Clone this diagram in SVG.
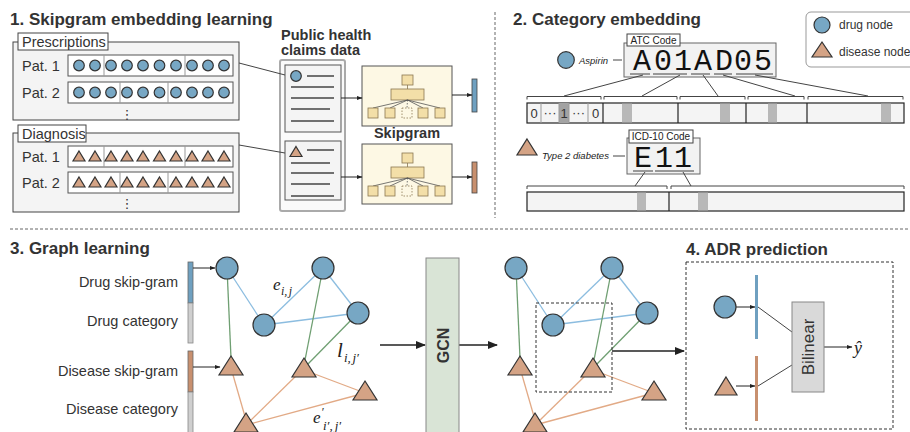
<svg xmlns="http://www.w3.org/2000/svg" xmlns:xlink="http://www.w3.org/1999/xlink" width="910" height="432" viewBox="0 0 910 432">
<defs>
<style>
.t{font-family:"Liberation Sans",Arial,sans-serif;fill:#333}
.h{font-family:"Liberation Sans",Arial,sans-serif;font-weight:bold;fill:#333;font-size:17px}
.hb{font-family:"Liberation Sans",Arial,sans-serif;font-weight:bold;fill:#333;font-size:14.5px}
.lbl{font-size:14.5px}
.sm{font-size:10px;fill:#222}
.it{font-family:"Liberation Sans",Arial,sans-serif;font-style:italic;font-size:9.5px;fill:#222}
.drug{fill:#77a7c4;stroke:#333;stroke-width:1.2}
.dis{fill:#d4a385;stroke:#333;stroke-width:1.2}
.ln{stroke:#444;stroke-width:1;fill:none}
.box{fill:#f4f4f4;stroke:#444;stroke-width:1}
.tag{fill:#fff;stroke:#444;stroke-width:1}
.row{fill:#fff;stroke:#555;stroke-width:1}
.dv{stroke:#999;stroke-width:1}
.card{fill:#f4f4f4;stroke:#555;stroke-width:1}
.cl{stroke:#444;stroke-width:1.5}
.sg{fill:#fdf8e4;stroke:#555;stroke-width:1}
.sq{fill:#f3dfa8;stroke:#8a7750;stroke-width:0.8}
.be{stroke:#8cbde0;stroke-width:1.3}
.ge{stroke:#6f9f72;stroke-width:1.3}
.oe{stroke:#e2aa86;stroke-width:1.3}
.sep{stroke:#666;stroke-width:1;stroke-dasharray:3 2}
.mono{font-family:"Liberation Mono","Courier New",monospace;font-size:30px;fill:#111}
.ul{stroke:#999;stroke-width:2}
.bar{fill:#f4f4f4;stroke:#222;stroke-width:1.2}
.mk{fill:#b8b8b8}
.bk{fill:none;stroke:#444;stroke-width:1}
.math{font-family:"Liberation Serif","Times New Roman",serif;font-style:italic;fill:#222}
.ar{stroke:#222;stroke-width:1;marker-end:url(#a1)}
.ar2{stroke:#222;stroke-width:1.6;marker-end:url(#a2)}
</style>
<marker id="a1" markerWidth="6" markerHeight="6" refX="5.5" refY="3" orient="auto" markerUnits="userSpaceOnUse"><path d="M0,0.8 L6,3 L0,5.2 Z" fill="#222"/></marker>
<marker id="a2" markerWidth="10" markerHeight="10" refX="9" refY="5" orient="auto" markerUnits="userSpaceOnUse"><path d="M0,1 L10,5 L0,9 Z" fill="#222"/></marker>
<path id="st" d="M0,-5.5 L6,4.5 L-6,4.5 Z"/>
<path id="T" d="M0,0 L12,19 L-12,19 Z"/>
<g id="tree">
<rect class="sq" x="40" y="9" width="11" height="10"/>
<line x1="45.5" y1="19" x2="45.5" y2="23" stroke="#8a7750" stroke-width="0.8"/>
<rect class="sq" x="29" y="23" width="33" height="11"/>
<g stroke="#555" stroke-width="0.8">
<line x1="45.5" y1="34" x2="11" y2="42"/><line x1="45.5" y1="34" x2="28" y2="42"/><line x1="45.5" y1="34" x2="45" y2="42" stroke-dasharray="1.5 1.5"/><line x1="45.5" y1="34" x2="61" y2="42"/><line x1="45.5" y1="34" x2="78" y2="42"/>
</g>
<rect class="sq" x="6" y="42" width="10" height="10"/>
<rect class="sq" x="23" y="42" width="10" height="10"/>
<rect x="40" y="42" width="10" height="10" fill="#fdf8e4" stroke="#8a7750" stroke-width="0.8" stroke-dasharray="1.5 1.5"/>
<rect class="sq" x="56" y="42" width="10" height="10"/>
<rect class="sq" x="73" y="42" width="10" height="10"/>
</g>
</defs>
<rect width="910" height="432" fill="#fff"/>

<!-- titles -->
<text class="h" x="10" y="25">1. Skipgram embedding learning</text>
<text class="h" x="513" y="25">2. Category embedding</text>
<text class="h" x="10" y="254">3. Graph learning</text>
<text class="h" x="686" y="255">4. ADR prediction</text>

<!-- separators -->
<line class="sep" x1="495" y1="12" x2="495" y2="218"/>
<line class="sep" x1="10" y1="229" x2="910" y2="229"/>

<!-- Section 1 -->
<g id="prescriptions">
<rect class="box" x="13" y="42" width="226" height="78"/>
<rect class="tag" x="18" y="33" width="90" height="17"/>
<text class="t lbl" x="22" y="46.5">Prescriptions</text>
<text class="t lbl" x="22" y="71">Pat. 1</text>
<text class="t lbl" x="22" y="98">Pat. 2</text>
<rect class="row" x="68" y="55" width="165" height="21"/>
<rect class="row" x="68" y="82" width="165" height="21"/>
<line class="dv" x1="104" y1="55" x2="104" y2="76"/><line class="dv" x1="185" y1="55" x2="185" y2="76"/>
<line class="dv" x1="120" y1="82" x2="120" y2="103"/><line class="dv" x1="168" y1="82" x2="168" y2="103"/>
<g class="drug">
<circle cx="79" cy="65.5" r="5.3"/><circle cx="95" cy="65.5" r="5.3"/><circle cx="111" cy="65.5" r="5.3"/><circle cx="127" cy="65.5" r="5.3"/><circle cx="143" cy="65.5" r="5.3"/><circle cx="159.5" cy="65.5" r="5.3"/><circle cx="176" cy="65.5" r="5.3"/><circle cx="192" cy="65.5" r="5.3"/><circle cx="208" cy="65.5" r="5.3"/><circle cx="224" cy="65.5" r="5.3"/>
<circle cx="79" cy="92.5" r="5.3"/><circle cx="95" cy="92.5" r="5.3"/><circle cx="111" cy="92.5" r="5.3"/><circle cx="127" cy="92.5" r="5.3"/><circle cx="143" cy="92.5" r="5.3"/><circle cx="159.5" cy="92.5" r="5.3"/><circle cx="176" cy="92.5" r="5.3"/><circle cx="192" cy="92.5" r="5.3"/><circle cx="208" cy="92.5" r="5.3"/><circle cx="224" cy="92.5" r="5.3"/>
</g>
<text x="127" y="118.5" text-anchor="middle" font-family="DejaVu Sans,sans-serif" font-size="13" fill="#333">⋮</text>
</g>

<g id="diagnosis">
<rect class="box" x="13" y="133" width="226" height="79"/>
<rect class="tag" x="18" y="125" width="68" height="17"/>
<text class="t lbl" x="22" y="138.5">Diagnosis</text>
<text class="t lbl" x="22" y="162">Pat. 1</text>
<text class="t lbl" x="22" y="188">Pat. 2</text>
<rect class="row" x="68" y="146" width="165" height="21"/>
<rect class="row" x="68" y="172" width="165" height="21"/>
<line class="dv" x1="104" y1="146" x2="104" y2="167"/><line class="dv" x1="185" y1="146" x2="185" y2="167"/>
<line class="dv" x1="120" y1="172" x2="120" y2="193"/><line class="dv" x1="168" y1="172" x2="168" y2="193"/>
<g class="dis">
<use xlink:href="#st" x="79" y="156.5"/><use xlink:href="#st" x="95" y="156.5"/><use xlink:href="#st" x="111" y="156.5"/><use xlink:href="#st" x="127" y="156.5"/><use xlink:href="#st" x="143" y="156.5"/><use xlink:href="#st" x="159.5" y="156.5"/><use xlink:href="#st" x="176" y="156.5"/><use xlink:href="#st" x="192" y="156.5"/><use xlink:href="#st" x="208" y="156.5"/><use xlink:href="#st" x="224" y="156.5"/>
<use xlink:href="#st" x="79" y="182.5"/><use xlink:href="#st" x="95" y="182.5"/><use xlink:href="#st" x="111" y="182.5"/><use xlink:href="#st" x="127" y="182.5"/><use xlink:href="#st" x="143" y="182.5"/><use xlink:href="#st" x="159.5" y="182.5"/><use xlink:href="#st" x="176" y="182.5"/><use xlink:href="#st" x="192" y="182.5"/><use xlink:href="#st" x="208" y="182.5"/><use xlink:href="#st" x="224" y="182.5"/>
</g>
<text x="127" y="207.5" text-anchor="middle" font-family="DejaVu Sans,sans-serif" font-size="13" fill="#333">⋮</text>
</g>

<g id="claims">
<text class="hb" x="281" y="40">Public health</text>
<text class="hb" x="281" y="55">claims data</text>
<rect x="280" y="60" width="65" height="151" rx="2" fill="#fafafa" stroke="#aaa" stroke-width="2"/>
<g id="card-drug">
<rect class="card" x="285" y="65" width="56" height="67"/>
<circle class="drug" cx="296" cy="76" r="5.3"/>
<line class="cl" x1="307" y1="76" x2="334" y2="76"/>
<line class="cl" x1="291" y1="87" x2="334" y2="87"/>
<line class="cl" x1="291" y1="98" x2="334" y2="98"/>
<line class="cl" x1="291" y1="109" x2="330" y2="109"/>
<line class="cl" x1="291" y1="121" x2="334" y2="121"/>
</g>
<g id="card-disease">
<rect class="card" x="285" y="141" width="56" height="59"/>
<use xlink:href="#st" class="dis" x="296" y="152"/>
<line class="cl" x1="307" y1="150" x2="334" y2="150"/>
<line class="cl" x1="291" y1="163" x2="330" y2="163"/>
<line class="cl" x1="291" y1="173" x2="334" y2="173"/>
<line class="cl" x1="291" y1="184" x2="330" y2="184"/>
<line class="cl" x1="291" y1="196" x2="334" y2="196"/>
</g>
</g>

<g id="skipgram1">
<rect class="sg" x="362" y="66" width="90" height="60"/>
<use xlink:href="#tree" x="362" y="66"/>
</g>
<text class="hb" x="407" y="138" text-anchor="middle">Skipgram</text>
<g id="skipgram2">
<rect class="sg" x="362" y="144" width="90" height="60"/>
<use xlink:href="#tree" x="362" y="144"/>
</g>
<g id="emb-drug"><rect x="472" y="79" width="5" height="33" fill="#6fa0c0" stroke="#444" stroke-width="0.8"/></g>
<g id="emb-disease"><rect x="472" y="162" width="5" height="31" fill="#c8906f" stroke="#444" stroke-width="0.8"/></g>

<!-- Section 2 -->
<g id="legend">
<rect x="806" y="12" width="112" height="55" rx="5" fill="#fff" stroke="#999" stroke-width="1"/>
<circle class="drug" cx="822" cy="25" r="8"/>
<text class="t" x="839" y="29" font-size="12">drug node</text>
<path class="dis" d="M822,42 L832,57 L812,57 Z"/>
<text class="t" x="839" y="56" font-size="12">disease node</text>
</g>

<g id="aspirin">
<circle class="drug" cx="566" cy="60" r="8.3"/>
<text class="it" x="579" y="63.5">Aspirin</text>
</g>
<g id="atc">
<rect x="624" y="43" width="152" height="34" fill="#f2f2f2" stroke="#666" stroke-width="1"/>
<rect class="tag" x="627" y="34" width="53" height="12"/>
<text class="t sm" x="653.5" y="43.8" text-anchor="middle">ATC Code</text>
<text class="mono" x="642 663 683 703 724 743 763" y="70" text-anchor="middle">A01AD05</text>
<line class="ul" x1="630" y1="74" x2="650" y2="74"/>
<line class="ul" x1="653" y1="74" x2="687" y2="74"/>
<line class="ul" x1="691" y1="74" x2="710" y2="74"/>
<line class="ul" x1="714" y1="74" x2="732" y2="74"/>
<line class="ul" x1="736" y1="74" x2="773" y2="74"/>
</g>
<g id="atc-vector">
<rect class="bar" x="527" y="103" width="377" height="20"/>
<rect x="559" y="103" width="10" height="20" fill="#a3a3a3"/>
<line class="dv" x1="541" y1="103" x2="541" y2="123"/><line class="dv" x1="559" y1="103" x2="559" y2="123"/><line class="dv" x1="569" y1="103" x2="569" y2="123"/><line class="dv" x1="588" y1="103" x2="588" y2="123"/>
<text class="t" font-size="13" x="534" y="118" text-anchor="middle" fill="#222">0</text>
<text class="t" font-size="13" x="550" y="117" text-anchor="middle" fill="#222">···</text>
<text class="t" font-size="13" x="564" y="118" text-anchor="middle" fill="#222">1</text>
<text class="t" font-size="13" x="578.5" y="117" text-anchor="middle" fill="#222">···</text>
<text class="t" font-size="13" x="595.5" y="118" text-anchor="middle" fill="#222">0</text>
<rect class="mk" x="622" y="103.6" width="10" height="18.8"/>
<rect class="mk" x="720" y="103.6" width="10" height="18.8"/>
<rect class="mk" x="768" y="103.6" width="9" height="18.8"/>
<rect class="mk" x="881" y="103.6" width="10" height="18.8"/>
<g stroke="#222" stroke-width="1.2"><line x1="603" y1="103" x2="603" y2="123"/><line x1="678" y1="103" x2="678" y2="123"/><line x1="746" y1="103" x2="746" y2="123"/><line x1="807" y1="103" x2="807" y2="123"/></g>
<path class="bk" d="M527,99.5V96.5H601V99.5M604,99.5V96.5H677V99.5M680,99.5V96.5H745V99.5M748,99.5V96.5H804V99.5M808,99.5V96.5H903V99.5"/>
</g>

<g id="t2d">
<path class="dis" d="M527,139 L537,155 L517,155 Z"/>
<text class="it" x="542" y="159">Type 2 diabetes</text>
</g>
<g id="icd">
<rect x="627" y="138" width="73" height="36" fill="#f2f2f2" stroke="#666" stroke-width="1"/>
<rect class="tag" x="629" y="130" width="64" height="13"/>
<text class="t sm" x="661" y="140.3" text-anchor="middle">ICD-10 Code</text>
<text class="mono" x="643 664 683" y="167" text-anchor="middle">E11</text>
<line class="ul" x1="633" y1="171" x2="653" y2="171"/>
<line class="ul" x1="655" y1="171" x2="694" y2="171"/>
</g>
<g id="icd-vector">
<rect class="bar" x="527" y="192" width="377" height="19"/>
<rect class="mk" x="637" y="192.6" width="9" height="17.8"/>
<rect class="mk" x="698" y="192.6" width="10" height="17.8"/>
<line x1="669" y1="192" x2="669" y2="211" stroke="#222" stroke-width="1.2"/>
<path class="bk" d="M527,189V186H667V189M671,189V186H904V189"/>
</g>

<!-- Section 3 -->
<text class="t lbl" x="178" y="287" text-anchor="end">Drug skip-gram</text>
<text class="t lbl" x="178" y="326" text-anchor="end">Drug category</text>
<text class="t lbl" x="178" y="376" text-anchor="end">Disease skip-gram</text>
<text class="t lbl" x="178" y="414" text-anchor="end">Disease category</text>
<g id="feat-drug">
<rect x="188" y="262" width="5" height="41" fill="#6fa0c0" stroke="#666" stroke-width="0.8"/>
<rect x="188" y="303" width="5" height="40" fill="#cfcfcf" stroke="#888" stroke-width="0.8"/>
</g>
<g id="feat-disease">
<rect x="188" y="351" width="5" height="41" fill="#c8906f" stroke="#666" stroke-width="0.8"/>
<rect x="188" y="392" width="5" height="48" fill="#cfcfcf" stroke="#888" stroke-width="0.8"/>
</g>

<g id="connectors">
<!-- section 1 -->
<line class="ln" x1="239" y1="63" x2="285" y2="75"/>
<line class="ln" x1="239" y1="145" x2="285" y2="153"/>
<line class="ar" x1="341" y1="98" x2="362" y2="98"/>
<line class="ar" x1="341" y1="177" x2="362" y2="177"/>
<line class="ar" x1="452" y1="95" x2="472" y2="95"/>
<line class="ar" x1="452" y1="177" x2="472" y2="177"/>
<!-- section 2 -->
<line class="ln" x1="613" y1="60" x2="622" y2="60" stroke-width="1.2"/>
<line class="ln" x1="613" y1="156" x2="625" y2="156" stroke-width="1.2"/>
<g class="ln">
<line x1="643" y1="75" x2="564" y2="96"/>
<line x1="680" y1="75" x2="642" y2="96"/>
<line x1="703" y1="75" x2="718" y2="96"/>
<line x1="723" y1="75" x2="795" y2="96"/>
<line x1="755" y1="75" x2="868" y2="96"/>
<line x1="645" y1="172" x2="635" y2="186"/>
<line x1="683" y1="172" x2="691" y2="186"/>
</g>
<!-- section 3 left graph -->
<line class="ar" x1="193" y1="268" x2="215" y2="268"/>
<line class="ar" x1="193" y1="367" x2="220" y2="367"/>
<line class="be" x1="227" y1="268" x2="264" y2="325"/>
<line class="be" x1="264" y1="325" x2="323" y2="268"/>
<line class="be" x1="264" y1="325" x2="358" y2="313"/>
<line class="be" x1="323" y1="268" x2="358" y2="313"/>
<line class="ge" x1="227" y1="268" x2="231" y2="358"/>
<line class="ge" x1="323" y1="268" x2="305" y2="360"/>
<line class="ge" x1="358" y1="313" x2="307" y2="365"/>
<line class="oe" x1="231" y1="368" x2="246" y2="420"/>
<line class="oe" x1="300" y1="372" x2="247" y2="424"/>
<line class="oe" x1="304" y1="370" x2="365" y2="393"/>
<line class="oe" x1="246" y1="425" x2="365" y2="393"/>
<line class="ar2" x1="380" y1="345" x2="425" y2="345"/>
<line class="ar2" x1="459" y1="345" x2="497" y2="345"/>
<!-- right graph -->
<line class="be" x1="516" y1="268" x2="553" y2="325"/>
<line class="be" x1="553" y1="325" x2="612" y2="268"/>
<line class="be" x1="553" y1="325" x2="647" y2="313"/>
<line class="be" x1="612" y1="268" x2="647" y2="313"/>
<line class="ge" x1="516" y1="268" x2="520" y2="358"/>
<line class="ge" x1="612" y1="268" x2="594" y2="360"/>
<line class="ge" x1="647" y1="313" x2="596" y2="365"/>
<line class="oe" x1="520" y1="368" x2="535" y2="420"/>
<line class="oe" x1="589" y1="372" x2="536" y2="424"/>
<line class="oe" x1="593" y1="370" x2="654" y2="393"/>
<line class="oe" x1="535" y1="425" x2="654" y2="393"/>
<line class="ar2" x1="612" y1="351" x2="684" y2="351"/>
<!-- section 4 -->
<line class="ar" x1="736" y1="307" x2="755" y2="307"/>
<line class="ar" x1="736" y1="386" x2="755" y2="386"/>
<line class="ln" x1="758" y1="307" x2="792" y2="332"/>
<line class="ln" x1="758" y1="386" x2="792" y2="365"/>
<line class="ar" x1="824" y1="347" x2="852" y2="347"/>
</g>

<!-- left graph nodes -->
<g id="g1-drug1"><circle class="drug" cx="227" cy="268" r="11"/></g>
<g id="g1-drug2"><circle class="drug" cx="323" cy="268" r="11"/></g>
<g id="g1-drug3"><circle class="drug" cx="264" cy="325" r="11"/></g>
<g id="g1-drug4"><circle class="drug" cx="358" cy="313" r="11"/></g>
<g id="g1-dis1"><use xlink:href="#T" class="dis" x="231" y="356"/></g>
<g id="g1-dis2"><use xlink:href="#T" class="dis" x="304" y="358"/></g>
<g id="g1-dis3"><use xlink:href="#T" class="dis" x="365" y="381"/></g>
<g id="g1-dis4"><use xlink:href="#T" class="dis" x="246" y="413"/></g>

<text class="math" x="273" y="290" font-size="17">e</text>
<text class="math" x="281" y="294.5" font-size="12">i,<tspan dx="1.5">j</tspan></text>
<text class="math" x="337" y="357" font-size="21">l</text>
<text class="math" x="344" y="362" font-size="13">i,<tspan dx="1.5">j′</tspan></text>
<text class="math" x="313" y="423" font-size="17">e</text>
<text class="math" x="321" y="416" font-size="12">′</text>
<text class="math" x="323" y="429.5" font-size="13">i′,<tspan dx="2">j′</tspan></text>

<g id="gcn">
<rect x="426" y="258" width="33" height="185" fill="#d9e4d6" stroke="#888" stroke-width="1"/>
<text class="t" transform="translate(449,345.5) rotate(-90)" text-anchor="middle" font-size="16" font-weight="bold">GCN</text>
</g>

<!-- right graph nodes -->
<g id="g2-drug1"><circle class="drug" cx="516" cy="268" r="11"/></g>
<g id="g2-drug2"><circle class="drug" cx="612" cy="268" r="11"/></g>
<g id="g2-drug3"><circle class="drug" cx="553" cy="325" r="11"/></g>
<g id="g2-drug4"><circle class="drug" cx="647" cy="313" r="11"/></g>
<g id="g2-dis1"><use xlink:href="#T" class="dis" x="520" y="356"/></g>
<g id="g2-dis2"><use xlink:href="#T" class="dis" x="593" y="358"/></g>
<g id="g2-dis3"><use xlink:href="#T" class="dis" x="654" y="381"/></g>
<g id="g2-dis4"><use xlink:href="#T" class="dis" x="535" y="413"/></g>
<rect id="g2-focus" x="536" y="303" width="76" height="89" fill="none" stroke="#333" stroke-width="1" stroke-dasharray="3 2"/>

<!-- Section 4 -->
<rect id="adr-frame" x="686" y="262" width="207" height="167" fill="none" stroke="#333" stroke-width="1" stroke-dasharray="3 2"/>
<g id="adr-drug"><circle class="drug" cx="725" cy="307" r="11"/></g>
<g id="adr-drug-emb"><rect x="755" y="275" width="3" height="64" fill="#6fa0c0"/></g>
<g id="adr-dis"><path class="dis" d="M726,377 L737,395 L715,395 Z"/></g>
<g id="adr-dis-emb"><rect x="755" y="356" width="3" height="65" fill="#c8906f"/></g>
<g id="bilinear">
<rect x="792" y="302" width="32" height="90" fill="#d9d9d9" stroke="#888" stroke-width="1"/>
<text class="t" transform="translate(814,347) rotate(-90)" text-anchor="middle" font-size="17">Bilinear</text>
</g>
<text class="math" x="854" y="354" font-size="18">ŷ</text>
</svg>
